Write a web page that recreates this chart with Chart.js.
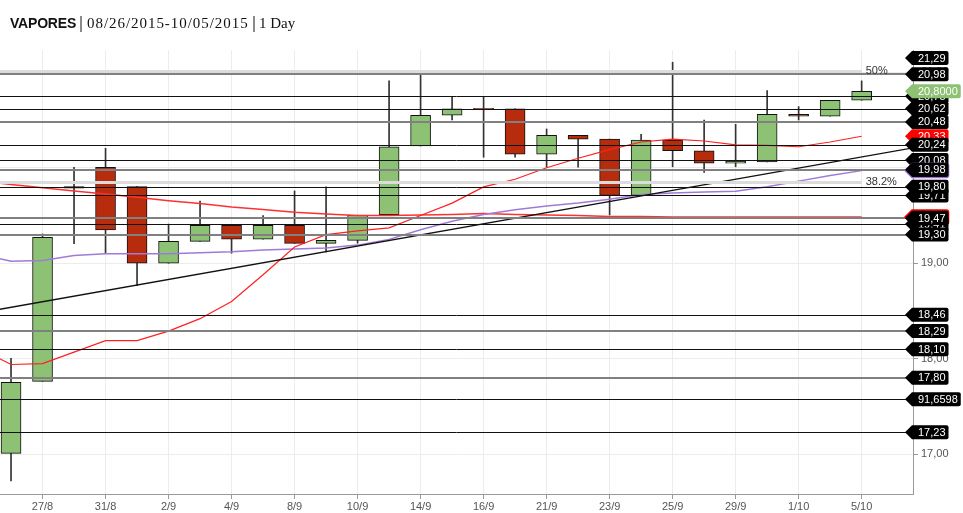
<!DOCTYPE html>
<html>
<head>
<meta charset="utf-8">
<script src="https://cdn.jsdelivr.net/npm/chart.js@4.4.0/dist/chart.umd.min.js"></script>
<style>
  body { margin: 0; background: #fff; }
  #wrap { position: relative; width: 963px; height: 513px; }
  #cv { position: absolute; left: 0; top: 0; }
  .t { position: absolute; top: 15px; line-height: 16px; white-space: nowrap; color: #111; }
  .name { font: bold 14px "Liberation Sans", Arial, sans-serif; letter-spacing: -0.2px; }
  .serif { font: 15px "Liberation Serif", serif; }
  .wide { letter-spacing: 0.95px; }
  .sep { position: absolute; top: 16px; width: 2px; height: 16px; background: #8a8a8a; }
</style>
</head>
<body>
<div id="wrap">
  <canvas id="cv" width="963" height="513"></canvas>
  <div class="t name" style="left:10px">VAPORES</div>
  <div class="sep" style="left:80px"></div>
  <div class="t serif wide" style="left:87px">08/26/2015-10/05/2015</div>
  <div class="sep" style="left:253px"></div>
  <div class="t serif" style="left:259px">1 Day</div>
</div>
<script>
// trading days shown on the chart
var days = ['26/8','27/8','28/8','31/8','1/9','2/9','3/9','4/9','7/9','8/9','9/9','10/9','11/9','14/9',
            '15/9','16/9','17/9','21/9','22/9','23/9','24/9','25/9','28/9','29/9','30/9','1/10','2/10','5/10']
var xTickIdx = [1,3,5,7,9,11,13,15,17,19,21,23,25,27]

var opens  = [17.01,17.764,19.802,20.005,19.802,19.00,19.23,19.398,19.251,19.398,19.209,19.24,19.509,20.228,
              20.55,20.622,20.616,20.141,20.34,20.30,19.71,20.29,20.176,20.047,20.06,20.56,20.54,20.707]
var closes = [17.754,19.272,19.785,19.349,19.00,19.23,19.398,19.251,19.398,19.209,19.24,19.503,20.218,20.55,
              20.616,20.612,20.141,20.34,20.30,19.71,20.29,20.18,20.047,20.07,20.56,20.54,20.707,20.80]
var highs  = [18.005,19.307,20.005,20.204,19.802,19.41,19.65,19.398,19.50,19.757,19.80,19.503,20.909,21.006,
              20.745,20.745,20.616,20.406,20.34,20.30,20.35,21.105,20.50,20.455,20.807,20.64,20.707,20.91]
var lows   = [16.72,17.764,19.205,19.105,18.765,19.00,19.23,19.105,19.251,19.209,19.12,19.21,19.50,20.228,
              20.50,20.11,20.11,20.008,20.005,19.506,19.71,20.01,19.95,20.01,20.06,20.50,20.54,20.707]

// moving averages, first value is the day before 26/8
var maFast = [18.11,17.94,17.95,18.07,18.19,18.19,18.29,18.42,18.60,18.88,19.17,19.30,19.34,19.37,19.50,
              19.63,19.80,19.88,20.00,20.10,20.19,20.27,20.30,20.28,20.24,20.235,20.22,20.27,20.33]
var maMid  = [19.10,19.02,19.03,19.08,19.10,19.10,19.10,19.11,19.12,19.14,19.15,19.16,19.19,19.25,19.35,
              19.44,19.51,19.56,19.60,19.63,19.67,19.72,19.735,19.745,19.755,19.80,19.86,19.92,19.97]
var maSlow = [19.86,19.825,19.79,19.757,19.724,19.69,19.655,19.625,19.59,19.563,19.535,19.516,19.50,19.50,
              19.505,19.51,19.52,19.51,19.505,19.50,19.49,19.49,19.485,19.485,19.485,19.485,19.485,19.485,19.485]

// trend line anchors (day index, price)
var trendIdx = [-1, 29]
var trendVals = [18.48, 20.23]

// horizontal levels and their tags
var levelVals   = [21.29,20.98,20.75,20.62,20.48,20.24,20.08,19.98,19.80,19.71,19.47,19.41,19.30,18.46,18.29,18.10,17.80,17.576,17.23]
var levelLabels = ['21,29','20,98','20,75','20,62','20,48','20,24','20,08','19,98','19,80','19,71','19,47','19,41','19,30',
                   '18,46','18,29','18,10','17,80','91,6598','17,23']

var fibVals = [21.015, 19.85]
var fibLabels = ['50%', '38.2%']

// styles
var heavyLevels = [20.98,20.48,19.98,19.47,19.30,18.29,17.80]
var GREEN = '#8dc275', RED = '#b82c0e'
var FONT = '"Liberation Sans", Arial, sans-serif'

function fmt(v, d){ return v.toFixed(d).replace('.', ',') }

function drawTag(ctx, tipX, py, text, fill, edge){
    ctx.font = '11px ' + FONT
    var w = ctx.measureText(text).width
    var x1 = tipX + 7, tx = tipX + 13, x2 = tx + w + 3, h = 7
    ctx.beginPath()
    ctx.moveTo(tipX, py)
    ctx.lineTo(x1, py - h)
    ctx.lineTo(x2 - 2, py - h)
    ctx.quadraticCurveTo(x2, py - h, x2, py - h + 2)
    ctx.lineTo(x2, py + h - 2)
    ctx.quadraticCurveTo(x2, py + h, x2 - 2, py + h)
    ctx.lineTo(x1, py + h)
    ctx.closePath()
    ctx.fillStyle = fill
    ctx.fill()
    if(edge){ ctx.strokeStyle = edge; ctx.lineWidth = 1.5; ctx.stroke() }
    ctx.fillStyle = '#fff'
    ctx.textBaseline = 'middle'
    ctx.textAlign = 'left'
    ctx.fillText(text, tx, py + 0.5)
}

var levelPlugin = {
    id: 'levels',
    afterDatasetsDraw: function(chart){
        var ctx = chart.ctx, a = chart.chartArea, ys = chart.scales.y, xs = chart.scales.x
        var xEnd = xs.getPixelForValue(days.length - 1)
        ctx.save()
        ctx.beginPath()
        ctx.rect(a.left, a.top, a.right - a.left, a.bottom - a.top)
        ctx.clip()
        fibVals.forEach(function(v){
            var py = Math.round(ys.getPixelForValue(v)) + 0.5
            ctx.strokeStyle = '#dcdcdc'; ctx.lineWidth = 3
            ctx.beginPath(); ctx.moveTo(a.left, py); ctx.lineTo(xEnd, py); ctx.stroke()
        })
        levelVals.forEach(function(v){
            var heavy = heavyLevels.indexOf(v) >= 0
            var py = Math.round(ys.getPixelForValue(v)) + (heavy ? 0 : 0.5)
            ctx.strokeStyle = heavy ? '#808080' : '#111'
            ctx.lineWidth = heavy ? 2 : 1
            ctx.beginPath(); ctx.moveTo(a.left, py); ctx.lineTo(a.right, py); ctx.stroke()
        })
        ctx.restore()
        ctx.save()
        ctx.font = '11px ' + FONT
        ctx.fillStyle = '#333'
        ctx.textAlign = 'left'
        ctx.textBaseline = 'alphabetic'
        fibVals.forEach(function(v, i){
            ctx.fillText(fibLabels[i], xEnd + 4, ys.getPixelForValue(v) + 3)
        })
        ctx.restore()
    },
    afterDraw: function(chart){
        var ctx = chart.ctx, a = chart.chartArea, ys = chart.scales.y
        var tip = a.right - 8
        var n = days.length - 1
        function py(v){ return Math.max(ys.getPixelForValue(v), a.top + 8) }
        function lvl(v){ var i = levelVals.indexOf(v); drawTag(ctx, tip, py(v), levelLabels[i], '#000') }
        ctx.save()
        lvl(21.29); lvl(20.98); lvl(20.75)
        drawTag(ctx, tip, py(closes[n]), fmt(closes[n], 4), GREEN)
        lvl(20.62); lvl(20.48)
        drawTag(ctx, tip, py(maFast[n + 1]), fmt(maFast[n + 1], 2), '#ff0000')
        lvl(20.08); lvl(20.24)
        drawTag(ctx, tip, py(maMid[n + 1]), fmt(maMid[n + 1], 2), '#000', '#9b6fd6')
        lvl(19.98); lvl(19.71); lvl(19.80)
        drawTag(ctx, tip, py(maSlow[n + 1]), fmt(maSlow[n + 1], 2), '#000', '#ff0000')
        lvl(19.41); lvl(19.47); lvl(19.30)
        lvl(18.46); lvl(18.29); lvl(18.10); lvl(17.80); lvl(17.576); lvl(17.23)
        ctx.restore()
    }
}

function maPoints(arr){ return arr.map(function(v, i){ return {x: i - 1, y: v} }) }

new Chart(document.getElementById('cv'), {
    type: 'bar',
    data: {
        datasets: [
            {type: 'line', data: trendIdx.map(function(d, i){ return {x: d, y: trendVals[i]} }),
             borderColor: '#111', borderWidth: 1.4, pointRadius: 0, order: 1},
            {type: 'line', data: maPoints(maFast), borderColor: '#ff2020', borderWidth: 1.2, pointRadius: 0, order: 1},
            {type: 'line', data: maPoints(maMid), borderColor: '#a07ad8', borderWidth: 1.5, pointRadius: 0, order: 1},
            {type: 'line', data: maPoints(maSlow), borderColor: '#ff3030', borderWidth: 1.5, pointRadius: 0, order: 1},
            {data: opens.map(function(o, i){ return {x: i, y: [o, closes[i]]} }),
             backgroundColor: opens.map(function(o, i){ return closes[i] >= o ? GREEN : RED }),
             borderColor: '#111', borderWidth: 1, borderSkipped: false,
             barThickness: 20, grouped: false, order: 3},
            {data: lows.map(function(l, i){ return {x: i, y: [l, highs[i]]} }),
             backgroundColor: '#333', barThickness: 1, grouped: false, order: 4}
        ]
    },
    options: {
        responsive: false,
        animation: false,
        layout: {padding: {top: 50, left: 0, right: 0, bottom: 0}},
        plugins: {legend: {display: false}, tooltip: {enabled: false}, title: {display: false}},
        scales: {
            x: {
                type: 'linear', min: -0.35, max: 28.63, offset: false,
                afterBuildTicks: function(s){ s.ticks = xTickIdx.map(function(v){ return {value: v} }) },
                afterFit: function(s){ s.height = 19 },
                ticks: {callback: function(v){ return days[v] }, autoSkip: false, maxRotation: 0,
                        font: {family: FONT, size: 11}, color: '#555', padding: 1},
                grid: {color: '#ececec', tickLength: 5, tickColor: '#999', offset: false},
                border: {color: '#999'}
            },
            y: {
                position: 'right', min: 16.584, max: 21.233,
                afterFit: function(s){ s.width = 50 },
                ticks: {stepSize: 1, includeBounds: false, callback: function(v){ return fmt(v, 2) },
                        font: {family: FONT, size: 11}, color: '#555', padding: 3},
                grid: {color: '#ececec', tickLength: 5, tickColor: '#999'},
                border: {color: '#999'}
            }
        }
    },
    plugins: [levelPlugin]
})
</script>
</body>
</html>
